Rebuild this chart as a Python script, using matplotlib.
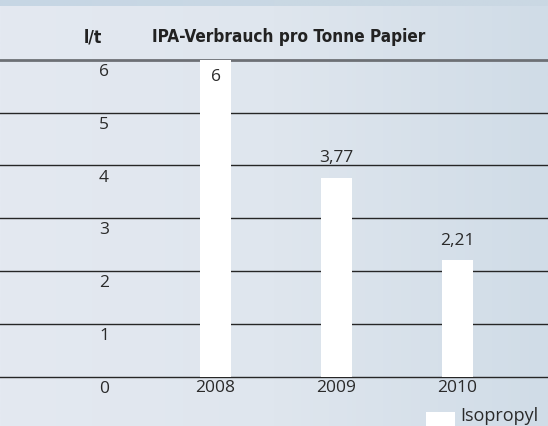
import numpy as np
import matplotlib
matplotlib.use("Agg")
import matplotlib.pyplot as plt
from matplotlib.patches import Rectangle
from matplotlib.colors import LinearSegmentedColormap
import matplotlib.transforms as mtransforms
from matplotlib import font_manager

# ---- data ----
years = ["2008", "2009", "2010"]
values = [6.0, 3.77, 2.21]
value_labels = ["6", "3,77", "2,21"]
yticks = [0, 1, 2, 3, 4, 5, 6]
unit_label = "l/t"
title = "IPA-Verbrauch pro Tonne Papier"
series_name = "Isopropyl"

# pick a condensed bold font if one is installed
narrow = None
for f in font_manager.fontManager.ttflist:
    if ("Narrow" in f.name or f.stretch in ("condensed", "semi-condensed")) and f.weight in (700, "bold"):
        narrow = f
        break

W, H = 548, 426
fig = plt.figure(figsize=(W / 100, H / 100), dpi=100)
ax = fig.add_axes([0, 0, 1, 1])

y0px, upx = 377.0, 52.9
x0px, xsp = 215.5, 121.0
ax.set_ylim((y0px - H) / upx, y0px / upx)
ax.set_xlim(-x0px / xsp, (W - x0px) / xsp)
ax.axis("off")

cmap = LinearSegmentedColormap.from_list("bg", ["#e4e9f1", "#dfe6ee", "#d0dce7"])
grad = np.linspace(0, 1, 256).reshape(1, -1)
ax.imshow(grad, cmap=cmap, aspect="auto", extent=[0, 1, 0, 1],
          transform=ax.transAxes, zorder=0)
strip = LinearSegmentedColormap.from_list("strip", ["#c6d6e4", "#c9d8e4", "#cbd8e3"])
ax.imshow(grad, cmap=strip, aspect="auto", extent=[0, 1, 1 - 6 / H, 1],
          transform=ax.transAxes, zorder=1)

xpos = np.arange(len(years))

for t in yticks:
    if t == yticks[-1]:
        ax.axhline(t, color="#6d7075", lw=2.0, zorder=2)
    else:
        ax.axhline(t, color="#262626", lw=1.0, zorder=2)

ax.bar(xpos, values, width=31 / xsp, color="white", zorder=3)

font = "Open Sans"
off_down = mtransforms.offset_copy(ax.transData, fig=fig, y=-2, units="points")
lab_x = 104 / W
blend = mtransforms.blended_transform_factory(ax.transAxes, ax.transData)
blend_down = mtransforms.offset_copy(blend, fig=fig, y=-3, units="points")
for t in yticks:
    ax.text(lab_x, t, str(t), transform=blend_down, ha="center", va="top",
            fontsize=12.5, color="#2a2a2a", family=font, zorder=4)

for x, yl in zip(xpos, years):
    ax.text(x, 0, yl, transform=off_down, ha="center", va="top",
            fontsize=12.5, color="#2a2a2a", family=font, zorder=4)

top = yticks[-1]
for x, v, lbl in zip(xpos, values, value_labels):
    if v + 0.6 > top:
        tr = mtransforms.offset_copy(ax.transData, fig=fig, y=-7, units="points")
        ax.text(x, v, lbl, transform=tr, ha="center", va="top",
                fontsize=12.5, color="#2a2a2a", family=font, zorder=4)
    else:
        tr = mtransforms.offset_copy(ax.transData, fig=fig, y=8, units="points")
        ax.text(x, v, lbl, transform=tr, ha="center", va="bottom",
                fontsize=12.5, color="#2a2a2a", family=font, zorder=4)

hy = 1 - 37 / H
if narrow is not None:
    hkw = dict(fontproperties=font_manager.FontProperties(fname=narrow.fname, size=12.3))
else:
    hkw = dict(fontsize=11.5, fontweight="bold", family="DejaVu Sans")
ax.text(93 / W, hy, unit_label, transform=ax.transAxes, ha="center", va="center",
        color="#222222", zorder=4, **hkw)
ax.text(152 / W, hy, title, transform=ax.transAxes, ha="left", va="center",
        color="#222222", zorder=4, **hkw)

ax.add_patch(Rectangle((426 / W, 0), 29 / W, 14 / H, transform=ax.transAxes,
                       facecolor="white", edgecolor="none", zorder=4))
ax.text(460 / W, 1 - 416 / H, series_name, transform=ax.transAxes, ha="left",
        va="center", fontsize=13, color="#2a2a2a", family=font, zorder=4)

fig.savefig("out.png", dpi=100)
